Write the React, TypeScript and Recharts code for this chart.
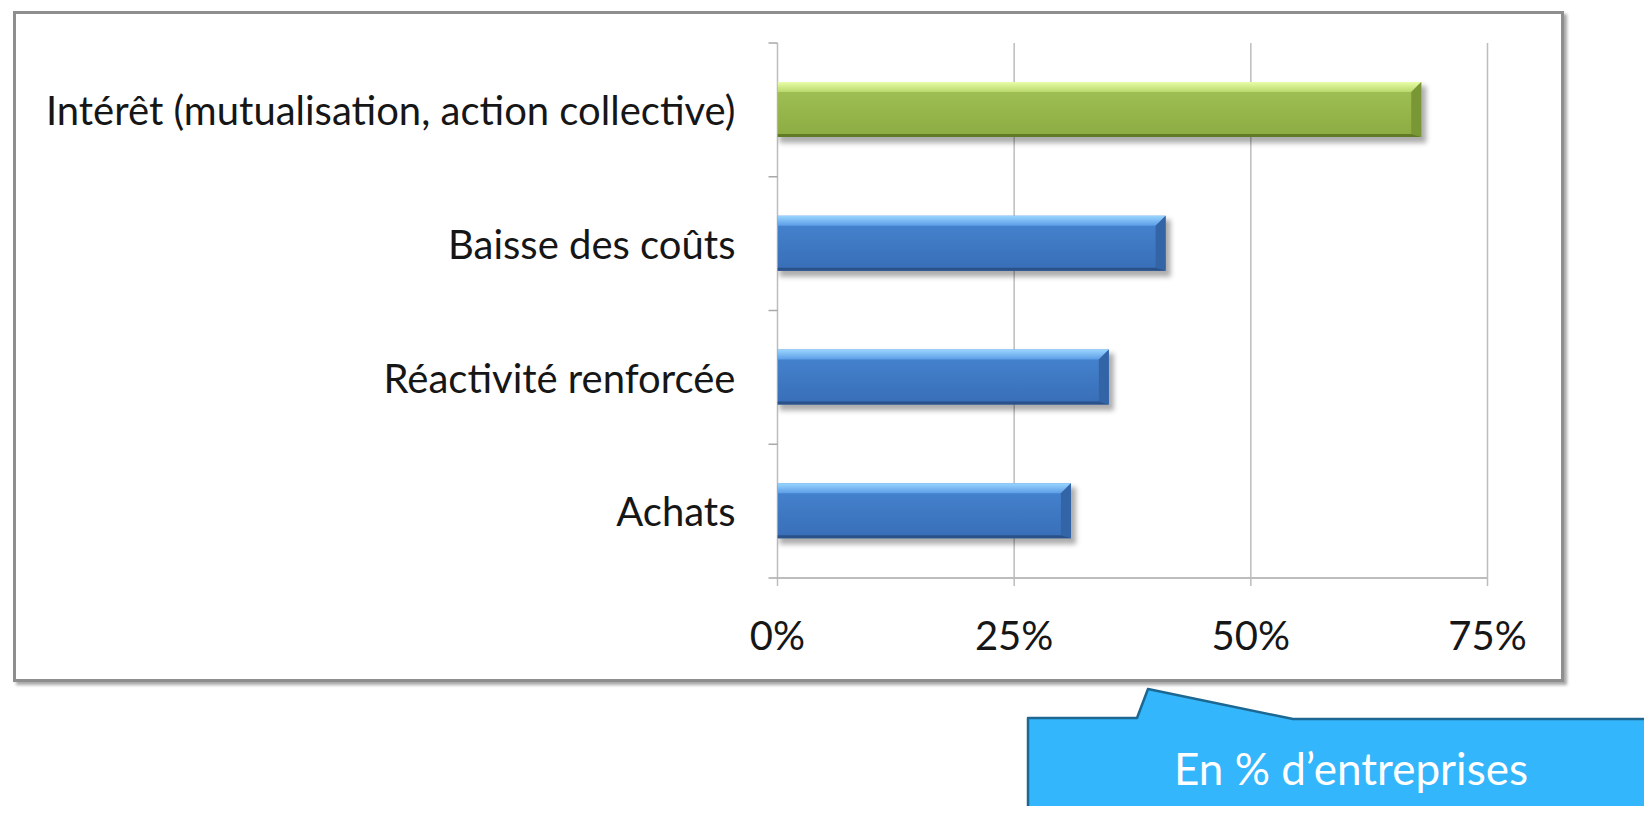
import React from "react";
import { BarChart, Bar, XAxis, YAxis, CartesianGrid, Cell } from "recharts";

// values, % of companies
const categories = [
  "Intérêt (mutualisation, action collective)",
  "Baisse des coûts",
  "Réactivité renforcée",
  "Achats",
];
const shares = [68, 41, 35, 31];
const xTicks = [0, 25, 50, 75];
const unitNote = "En % d’entreprises";

const rows = categories.map((name, i) => ({ name, value: shares[i] }));

const FONT = "Lato, 'Open Sans', sans-serif";
const INK = "#161616";
const RULE = "#bdbdbd";
const Y_TICK = 8;
const Y_GAP = 34;

const GREEN = {
  hiTop: "#e8fda8",
  hiBottom: "#b9d96c",
  top: "#a2c357",
  bottom: "#8cab42",
  side: "#7a9735",
  dark: "#617a26",
};
const BLUE = {
  hiTop: "#9ad6ff",
  hiBottom: "#5c9de6",
  top: "#4685d1",
  bottom: "#386eb7",
  side: "#3364a5",
  dark: "#2a5188",
};

function BevelBar(props: any) {
  const { x, y, width, height, index } = props;
  if (!width || width <= 0) return null;
  const c = index === 0 ? GREEN : BLUE;
  const b = Math.min(10, height * 0.19);
  const d = 3;
  const r = x + width;
  const bot = y + height;
  return (
    <g>
      <defs>
        <linearGradient id={`body-${index}`} x1="0" y1="0" x2="0" y2="1">
          <stop offset="0%" stopColor={c.top} />
          <stop offset="100%" stopColor={c.bottom} />
        </linearGradient>
        <linearGradient id={`hi-${index}`} x1="0" y1="0" x2="0" y2="1">
          <stop offset="0%" stopColor={c.hiTop} />
          <stop offset="100%" stopColor={c.hiBottom} />
        </linearGradient>
        <filter id={`soft-${index}`} x="-10%" y="-50%" width="120%" height="200%">
          <feGaussianBlur stdDeviation="2.5" />
        </filter>
      </defs>
      <rect
        x={x + 2}
        y={y + 4}
        width={width + 3}
        height={height + 2}
        fill="rgba(0,0,0,0.32)"
        filter={`url(#soft-${index})`}
      />
      <rect x={x} y={y} width={width} height={height} fill={`url(#body-${index})`} />
      <polygon
        points={`${x},${y} ${r},${y} ${r - b},${y + b} ${x},${y + b}`}
        fill={`url(#hi-${index})`}
      />
      <polygon
        points={`${r},${y} ${r},${bot} ${r - b},${bot - d} ${r - b},${y + b}`}
        fill={c.side}
      />
      <polygon
        points={`${x},${bot} ${r},${bot} ${r - b},${bot - d} ${x},${bot - d}`}
        fill={c.dark}
      />
    </g>
  );
}

// label on one line + the small tick marks between categories
function CategoryTick(props: any) {
  const { x, y, payload, index } = props;
  const half = payload?.offset ?? 0;
  const axisX = x + Y_TICK + Y_GAP;
  const last = index === categories.length - 1;
  return (
    <g>
      {half > 0 && (
        <line x1={axisX - 9} x2={axisX} y1={y - half} y2={y - half} stroke="#a8a8a8" strokeWidth={1.5} />
      )}
      {half > 0 && last && (
        <line x1={axisX - 9} x2={axisX} y1={y + half} y2={y + half} stroke="#a8a8a8" strokeWidth={1.5} />
      )}
      <text x={x} y={y} dy="0.38em" textAnchor="end" fontSize={40} fill={INK} fontFamily={FONT}>
        {payload.value}
      </text>
    </g>
  );
}

export default function App() {
  return (
    <div
      style={{
        position: "relative",
        width: 1652,
        height: 814,
        margin: -8,
        background: "#ffffff",
        overflow: "hidden",
        fontFamily: FONT,
      }}
    >
      {/* chart frame */}
      <div
        style={{
          position: "absolute",
          left: 13,
          top: 11,
          width: 1545,
          height: 665,
          border: "3px solid #8e8e8e",
          background: "#ffffff",
          boxShadow: "3px 3px 3px rgba(0,0,0,0.35)",
        }}
      />

      <div style={{ position: "absolute", left: 0, top: 0 }}>
        <BarChart
          width={1652}
          height={814}
          data={rows}
          layout="vertical"
          margin={{ top: 43, right: 164.5, bottom: 176, left: 776.5 }}
          barSize={55}
        >
          <CartesianGrid horizontal={false} stroke={RULE} strokeWidth={1.5} />
          <XAxis
            type="number"
            domain={[0, 75]}
            ticks={xTicks}
            height={60}
            tickFormatter={(v: number) => `${v}%`}
            tick={{ fontSize: 40, fill: INK, fontFamily: FONT }}
            tickSize={8}
            tickMargin={36}
            axisLine={{ stroke: RULE, strokeWidth: 2 }}
            tickLine={{ stroke: RULE, strokeWidth: 1.5 }}
            allowDataOverflow
          />
          <YAxis
            type="category"
            dataKey="name"
            width={1}
            tick={<CategoryTick />}
            tickSize={Y_TICK}
            tickMargin={Y_GAP}
            tickLine={false}
            axisLine={false}
            interval={0}
          />
          <Bar dataKey="value" shape={<BevelBar />} isAnimationActive={false}>
            {rows.map((r, i) => (
              <Cell key={r.name} fill={i === 0 ? GREEN.top : BLUE.top} />
            ))}
          </Bar>
        </BarChart>
      </div>

      {/* slide edges and unit callout */}
      <svg
        width={1652}
        height={814}
        style={{ position: "absolute", left: 0, top: 0, pointerEvents: "none" }}
      >
        <rect x={0} y={0} width={1652} height={7} fill="#cbd7dc" />
        <rect x={0} y={0} width={7} height={814} fill="#cbd7dc" />
        <polygon
          points="1028,718 1137,718 1148,689 1293,719 1660,719 1660,820 1028,820"
          fill="#33b6fb"
          stroke="#1c6892"
          strokeWidth={2.5}
          strokeLinejoin="round"
        />
        <text
          x={1351}
          y={785}
          textAnchor="middle"
          fontSize={44}
          fill="#ffffff"
          fontFamily={FONT}
        >
          {unitNote}
        </text>
      </svg>
    </div>
  );
}
